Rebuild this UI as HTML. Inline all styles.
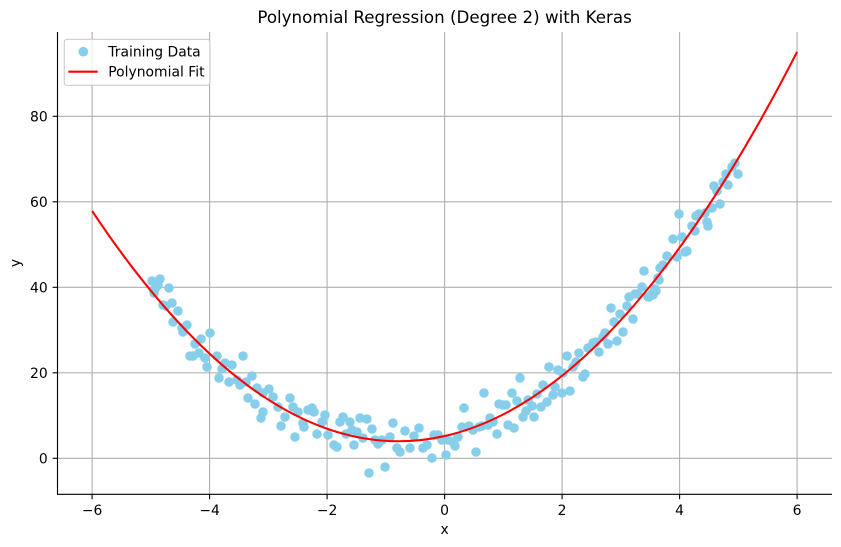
<!DOCTYPE html>
<html><head><meta charset="utf-8"><style>
html,body{margin:0;padding:0;background:#fff;}
svg{display:block;font-family:"DejaVu Sans","Liberation Sans",sans-serif;}
</style></head><body>
<svg width="841" height="547" viewBox="0 0 841 547" xmlns="http://www.w3.org/2000/svg">
<rect width="841" height="547" fill="#fff"/>
<!-- grid -->
<g stroke="#b0b0b0" stroke-width="1.1">
<line x1="92.1" y1="32" x2="92.1" y2="494.3"/>
<line x1="209.6" y1="32" x2="209.6" y2="494.3"/>
<line x1="327.1" y1="32" x2="327.1" y2="494.3"/>
<line x1="444.6" y1="32" x2="444.6" y2="494.3"/>
<line x1="562.1" y1="32" x2="562.1" y2="494.3"/>
<line x1="679.6" y1="32" x2="679.6" y2="494.3"/>
<line x1="797.1" y1="32" x2="797.1" y2="494.3"/>
<line x1="57.5" y1="458.3" x2="832" y2="458.3"/>
<line x1="57.5" y1="372.8" x2="832" y2="372.8"/>
<line x1="57.5" y1="287.3" x2="832" y2="287.3"/>
<line x1="57.5" y1="201.8" x2="832" y2="201.8"/>
<line x1="57.5" y1="116.3" x2="832" y2="116.3"/>
</g>
<!-- scatter -->
<g fill="#87ceeb">
<circle cx="152" cy="281" r="4.8"/><circle cx="155" cy="289" r="4.8"/><circle cx="158" cy="285" r="4.8"/><circle cx="160" cy="279" r="4.8"/><circle cx="154" cy="293" r="4.8"/><circle cx="169" cy="288" r="4.8"/><circle cx="163" cy="305" r="4.8"/><circle cx="166" cy="306" r="4.8"/><circle cx="172" cy="303" r="4.8"/><circle cx="178" cy="311" r="4.8"/><circle cx="173" cy="322" r="4.8"/><circle cx="182" cy="328" r="4.8"/><circle cx="187" cy="325" r="4.8"/><circle cx="183" cy="332" r="4.8"/><circle cx="195" cy="344" r="4.8"/><circle cx="201" cy="339" r="4.8"/><circle cx="210" cy="333" r="4.8"/><circle cx="190" cy="356" r="4.8"/><circle cx="193" cy="356" r="4.8"/><circle cx="199" cy="353" r="4.8"/><circle cx="205" cy="358" r="4.8"/><circle cx="207" cy="367" r="4.8"/><circle cx="217" cy="356" r="4.8"/><circle cx="222" cy="369" r="4.8"/><circle cx="225" cy="363" r="4.8"/><circle cx="232" cy="365" r="4.8"/><circle cx="243" cy="356" r="4.8"/><circle cx="219" cy="378" r="4.8"/><circle cx="229" cy="382" r="4.8"/><circle cx="237" cy="380" r="4.8"/><circle cx="240" cy="385" r="4.8"/><circle cx="246" cy="382" r="4.8"/><circle cx="252" cy="376" r="4.8"/><circle cx="248" cy="398" r="4.8"/><circle cx="255" cy="404" r="4.8"/><circle cx="257" cy="388" r="4.8"/><circle cx="263" cy="393" r="4.8"/><circle cx="269" cy="389" r="4.8"/><circle cx="273" cy="397" r="4.8"/><circle cx="263" cy="412" r="4.8"/><circle cx="261" cy="418" r="4.8"/><circle cx="278" cy="407" r="4.8"/><circle cx="281" cy="426" r="4.8"/><circle cx="285" cy="417" r="4.8"/><circle cx="290" cy="398" r="4.8"/><circle cx="293" cy="407" r="4.8"/><circle cx="295" cy="437" r="4.8"/><circle cx="298" cy="412" r="4.8"/><circle cx="303" cy="423" r="4.8"/><circle cx="304" cy="427" r="4.8"/><circle cx="308" cy="410" r="4.8"/><circle cx="312" cy="408" r="4.8"/><circle cx="314" cy="412" r="4.8"/><circle cx="317" cy="434" r="4.8"/><circle cx="322" cy="422" r="4.8"/><circle cx="325" cy="415" r="4.8"/><circle cx="328" cy="435" r="4.8"/><circle cx="334" cy="445" r="4.8"/><circle cx="337" cy="447" r="4.8"/><circle cx="340" cy="422" r="4.8"/><circle cx="343" cy="417" r="4.8"/><circle cx="346" cy="434" r="4.8"/><circle cx="350" cy="422" r="4.8"/><circle cx="352" cy="430" r="4.8"/><circle cx="354" cy="445" r="4.8"/><circle cx="357" cy="432" r="4.8"/><circle cx="360" cy="418" r="4.8"/><circle cx="367" cy="419" r="4.8"/><circle cx="363" cy="438" r="4.8"/><circle cx="372" cy="429" r="4.8"/><circle cx="375" cy="440" r="4.8"/><circle cx="378" cy="444" r="4.8"/><circle cx="382" cy="440" r="4.8"/><circle cx="385" cy="467" r="4.8"/><circle cx="390" cy="437" r="4.8"/><circle cx="393" cy="423" r="4.8"/><circle cx="397" cy="448" r="4.8"/><circle cx="400" cy="452" r="4.8"/><circle cx="405" cy="431" r="4.8"/><circle cx="410" cy="448" r="4.8"/><circle cx="414" cy="436" r="4.8"/><circle cx="419" cy="428" r="4.8"/><circle cx="423" cy="448" r="4.8"/><circle cx="427" cy="445" r="4.8"/><circle cx="432" cy="458" r="4.8"/><circle cx="434" cy="435" r="4.8"/><circle cx="438" cy="435" r="4.8"/><circle cx="442" cy="440" r="4.8"/><circle cx="446" cy="455" r="4.8"/><circle cx="369" cy="473" r="4.8"/>
<circle cx="448" cy="440" r="4.8"/><circle cx="453" cy="442" r="4.8"/><circle cx="455" cy="446" r="4.8"/><circle cx="458" cy="437" r="4.8"/><circle cx="462" cy="427" r="4.8"/><circle cx="464" cy="408" r="4.8"/><circle cx="469" cy="426" r="4.8"/><circle cx="473" cy="430" r="4.8"/><circle cx="476" cy="452" r="4.8"/><circle cx="479" cy="427" r="4.8"/><circle cx="482" cy="426" r="4.8"/><circle cx="484" cy="393" r="4.8"/><circle cx="488" cy="425" r="4.8"/><circle cx="490" cy="418" r="4.8"/><circle cx="493" cy="422" r="4.8"/><circle cx="497" cy="434" r="4.8"/><circle cx="499" cy="404" r="4.8"/><circle cx="503" cy="405" r="4.8"/><circle cx="506" cy="405" r="4.8"/><circle cx="508" cy="425" r="4.8"/><circle cx="512" cy="393" r="4.8"/><circle cx="514" cy="428" r="4.8"/><circle cx="517" cy="401" r="4.8"/><circle cx="520" cy="378" r="4.8"/><circle cx="523" cy="417" r="4.8"/><circle cx="526" cy="411" r="4.8"/><circle cx="528" cy="400" r="4.8"/><circle cx="532" cy="406" r="4.8"/><circle cx="534" cy="417" r="4.8"/><circle cx="537" cy="394" r="4.8"/><circle cx="541" cy="407" r="4.8"/><circle cx="543" cy="385" r="4.8"/><circle cx="547" cy="402" r="4.8"/><circle cx="549" cy="367" r="4.8"/><circle cx="553" cy="395" r="4.8"/><circle cx="555" cy="387" r="4.8"/><circle cx="558" cy="370" r="4.8"/><circle cx="562" cy="393" r="4.8"/><circle cx="563" cy="373" r="4.8"/><circle cx="567" cy="356" r="4.8"/><circle cx="570" cy="391" r="4.8"/><circle cx="573" cy="367" r="4.8"/><circle cx="576" cy="362" r="4.8"/><circle cx="579" cy="353" r="4.8"/><circle cx="583" cy="377" r="4.8"/><circle cx="585" cy="374" r="4.8"/><circle cx="588" cy="348" r="4.8"/><circle cx="593" cy="343" r="4.8"/><circle cx="596" cy="342" r="4.8"/><circle cx="599" cy="352" r="4.8"/><circle cx="603" cy="337" r="4.8"/><circle cx="605" cy="333" r="4.8"/><circle cx="608" cy="344" r="4.8"/><circle cx="611" cy="308" r="4.8"/><circle cx="614" cy="322" r="4.8"/><circle cx="617" cy="341" r="4.8"/><circle cx="620" cy="314" r="4.8"/><circle cx="623" cy="332" r="4.8"/><circle cx="627" cy="306" r="4.8"/><circle cx="629" cy="297" r="4.8"/><circle cx="633" cy="319" r="4.8"/><circle cx="635" cy="294" r="4.8"/><circle cx="638" cy="294" r="4.8"/><circle cx="642" cy="287" r="4.8"/><circle cx="649" cy="297" r="4.8"/><circle cx="653" cy="295" r="4.8"/><circle cx="656" cy="291" r="4.8"/><circle cx="659" cy="280" r="4.8"/><circle cx="648" cy="297" r="4.8"/><circle cx="652" cy="294" r="4.8"/><circle cx="655" cy="289" r="4.8"/><circle cx="644" cy="271" r="4.8"/><circle cx="658" cy="278" r="4.8"/><circle cx="660" cy="268" r="4.8"/><circle cx="663" cy="265" r="4.8"/><circle cx="667" cy="256" r="4.8"/><circle cx="677" cy="257" r="4.8"/><circle cx="673" cy="239" r="4.8"/><circle cx="682" cy="237" r="4.8"/><circle cx="685" cy="252" r="4.8"/><circle cx="687" cy="251" r="4.8"/><circle cx="692" cy="226" r="4.8"/><circle cx="695" cy="231" r="4.8"/><circle cx="679" cy="214" r="4.8"/><circle cx="696" cy="216" r="4.8"/><circle cx="699" cy="214" r="4.8"/><circle cx="705" cy="213" r="4.8"/><circle cx="707" cy="222" r="4.8"/><circle cx="708" cy="226" r="4.8"/><circle cx="712" cy="208" r="4.8"/><circle cx="720" cy="204" r="4.8"/><circle cx="714" cy="186" r="4.8"/><circle cx="717" cy="191" r="4.8"/><circle cx="723" cy="182" r="4.8"/><circle cx="728" cy="185" r="4.8"/><circle cx="726" cy="174" r="4.8"/><circle cx="732" cy="167" r="4.8"/><circle cx="735" cy="163" r="4.8"/><circle cx="738" cy="174" r="4.8"/>
</g>
<!-- fit curve (exact parabola as quadratic bezier) -->
<path d="M92.1,210.9 Q444.6,740.8 797.1,51.8" fill="none" stroke="#ff0000" stroke-width="2.08"/>
<!-- spines -->
<g stroke="#000" stroke-width="1.1">
<line x1="57.5" y1="32" x2="57.5" y2="494.8"/>
<line x1="57" y1="494.3" x2="832" y2="494.3"/>
</g>
<!-- ticks -->
<g stroke="#000" stroke-width="1.1">
<line x1="92.1" y1="494.3" x2="92.1" y2="499.2"/>
<line x1="209.6" y1="494.3" x2="209.6" y2="499.2"/>
<line x1="327.1" y1="494.3" x2="327.1" y2="499.2"/>
<line x1="444.6" y1="494.3" x2="444.6" y2="499.2"/>
<line x1="562.1" y1="494.3" x2="562.1" y2="499.2"/>
<line x1="679.6" y1="494.3" x2="679.6" y2="499.2"/>
<line x1="797.1" y1="494.3" x2="797.1" y2="499.2"/>
<line x1="52.6" y1="458.3" x2="57.5" y2="458.3"/>
<line x1="52.6" y1="372.8" x2="57.5" y2="372.8"/>
<line x1="52.6" y1="287.3" x2="57.5" y2="287.3"/>
<line x1="52.6" y1="201.8" x2="57.5" y2="201.8"/>
<line x1="52.6" y1="116.3" x2="57.5" y2="116.3"/>
</g>
<g font-size="13.9" fill="#000" text-anchor="middle">
<text x="92.1" y="515">−6</text>
<text x="209.6" y="515">−4</text>
<text x="327.1" y="515">−2</text>
<text x="444.6" y="515">0</text>
<text x="562.1" y="515">2</text>
<text x="679.6" y="515">4</text>
<text x="797.1" y="515">6</text>
</g>
<g font-size="13.9" fill="#000" text-anchor="end">
<text x="47.7" y="463.3">0</text>
<text x="47.7" y="377.8">20</text>
<text x="47.7" y="292.3">40</text>
<text x="47.7" y="206.8">60</text>
<text x="47.7" y="121.3">80</text>
</g>
<text x="444.6" y="534" font-size="13.9" text-anchor="middle">x</text>
<text x="20" y="263" font-size="13.9" text-anchor="middle" transform="rotate(-90 20 263)">y</text>
<text x="444.6" y="23" font-size="16.7" text-anchor="middle">Polynomial Regression (Degree 2) with Keras</text>
<!-- legend -->
<rect x="64.3" y="39.3" width="145.7" height="46" rx="2.8" fill="#fff" fill-opacity="0.8" stroke="#cccccc" stroke-width="1.1"/>
<circle cx="83.3" cy="51.7" r="4.8" fill="#87ceeb"/>
<line x1="68.3" y1="71.7" x2="97.7" y2="71.7" stroke="#ff0000" stroke-width="2.08"/>
<g font-size="13.9" fill="#000">
<text x="108.3" y="56.5">Training Data</text>
<text x="108.3" y="76.5">Polynomial Fit</text>
</g>
</svg>
</body></html>
